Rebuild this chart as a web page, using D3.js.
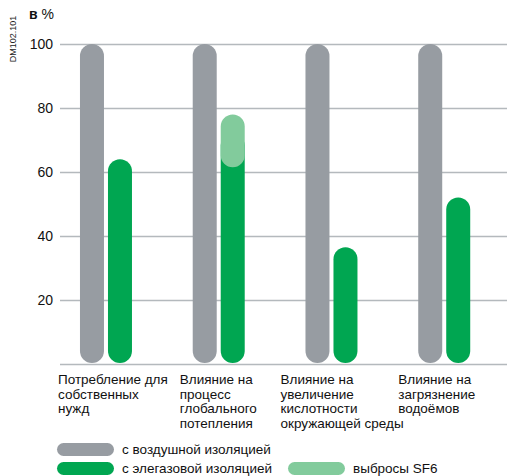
<!DOCTYPE html>
<html>
<head>
<meta charset="utf-8">
<script src="https://cdn.jsdelivr.net/npm/d3@7"></script>
<style>
	body { margin: 0; background: #fff; }
	svg { display: block; font-family: 'Liberation Sans', Arial, sans-serif; }
</style>
</head>
<body>
<div id="chart"></div>
<script>
var categories = [
	['Потребление для', 'собственных', 'нужд'],
	['Влияние на', 'процесс', 'глобального', 'потепления'],
	['Влияние на', 'увеличение', 'кислотности', 'окружающей среды'],
	['Влияние на', 'загрязнение', 'водоёмов']
];
var airValues = [100, 100, 100, 100];
var sf6Values = [64, 72, 36.5, 52];
var emissionLow = [null, 61.5, null, null];
var emissionHigh = [null, 78, null, null];
var yTicks = [20, 40, 60, 80, 100];
var legendItems = ['с воздушной изоляцией', 'с элегазовой изоляцией', 'выбросы SF6'];

var width = 507, height = 476;
var grey = '#979ca2', green = '#00a651', lightGreen = '#82cb9c', gridColor = '#b4b9bd';
var barW = 24;
var labelShift = [8, 17, 5, 10];

var svg = d3.select('#chart').append('svg')
	.attr('width', width)
	.attr('height', height);

var x = d3.scaleBand()
	.domain(d3.range(categories.length))
	.range([50, 501]);
var y = d3.scaleLinear()
	.domain([0, 100])
	.range([364, 44]);

// grid
svg.append('g').selectAll('line')
	.data([0].concat(yTicks))
	.enter().append('line')
	.attr('x1', 60)
	.attr('x2', width)
	.attr('y1', function(d) { return Math.round(y(d)) + 0.5; })
	.attr('y2', function(d) { return Math.round(y(d)) + 0.5; })
	.attr('stroke', gridColor)
	.attr('stroke-width', 1.3);

svg.append('g').selectAll('text')
	.data(yTicks)
	.enter().append('text')
	.attr('x', 53)
	.attr('y', function(d) { return y(d) + 5; })
	.attr('text-anchor', 'end')
	.attr('font-size', 14)
	.attr('fill', '#111')
	.text(function(d) { return d; });

svg.append('text')
	.attr('x', 29)
	.attr('y', 19)
	.attr('font-size', 14)
	.attr('fill', '#111')
	.html('<tspan font-weight="bold">в</tspan> %');

svg.append('text')
	.attr('transform', 'translate(16,39) rotate(-90)')
	.attr('text-anchor', 'middle')
	.attr('font-size', 9)
	.attr('fill', '#222')
	.text('DM102.101');

function pill(g, x0, top, bottom, color) {
	g.append('rect')
		.attr('x', x0)
		.attr('y', top)
		.attr('width', barW)
		.attr('height', bottom - top)
		.attr('rx', barW / 2)
		.attr('fill', color);
}

var bars = svg.append('g');
categories.forEach(function(c, i) {
	var cx = x(i) + x.bandwidth() / 2;
	pill(bars, cx - 26.4, y(airValues[i]), y(0) - 1, grey);
	pill(bars, cx + 1.6, y(sf6Values[i]), y(0) - 1, green);
	if (emissionHigh[i] != null) {
		pill(bars, cx + 1.6, y(emissionHigh[i]), y(emissionLow[i]), lightGreen);
	}
});

// category labels
var labels = svg.append('g');
categories.forEach(function(lines, i) {
	var t = labels.append('text')
		.attr('x', x(i) + labelShift[i])
		.attr('y', 384)
		.attr('font-size', 13.5)
		.attr('fill', '#111');
	lines.forEach(function(s, j) {
		t.append('tspan')
			.attr('x', x(i) + labelShift[i])
			.attr('dy', j == 0 ? 0 : 14.7)
			.text(s);
	});
});

// legend
var legendPos = [[57, 443], [57, 462], [288, 462]];
var legendColors = [grey, green, lightGreen];
legendItems.forEach(function(s, i) {
	svg.append('rect')
		.attr('x', legendPos[i][0])
		.attr('y', legendPos[i][1])
		.attr('width', 57)
		.attr('height', 13)
		.attr('rx', 6.5)
		.attr('fill', legendColors[i]);
	svg.append('text')
		.attr('x', legendPos[i][0] + 65)
		.attr('y', legendPos[i][1] + 11)
		.attr('font-size', 13.5)
		.attr('fill', '#111')
		.text(s);
});
</script>
</body>
</html>
